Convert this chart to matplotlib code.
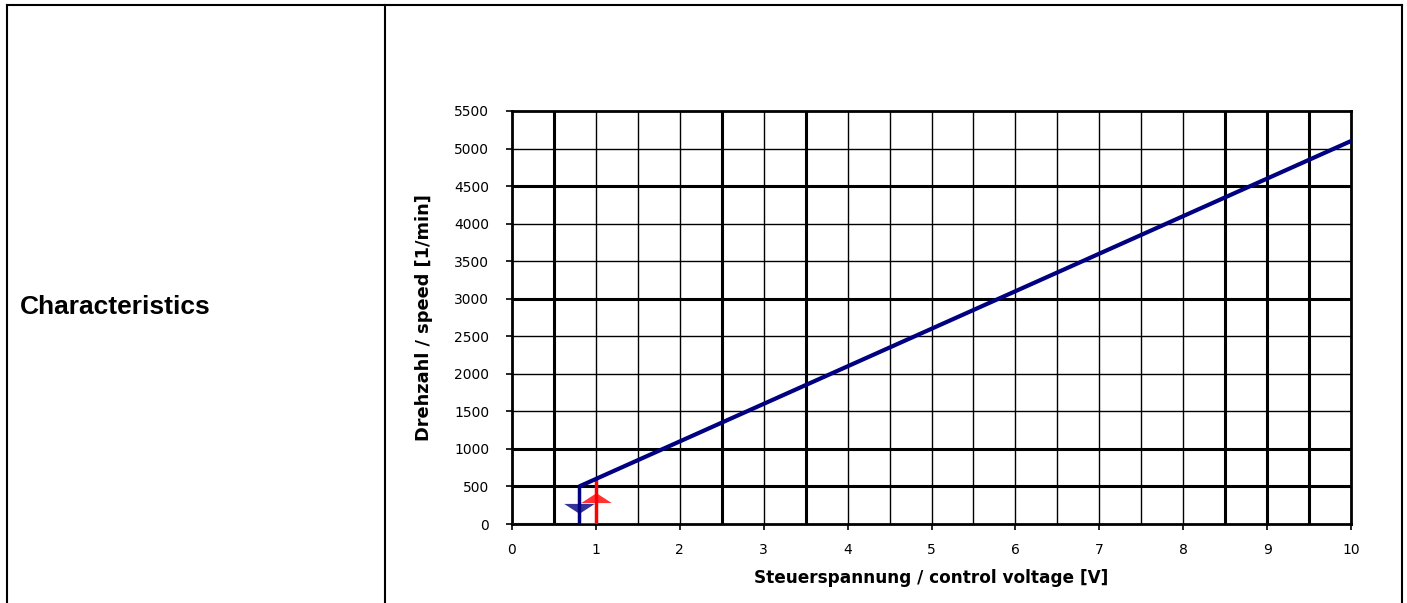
import matplotlib
matplotlib.use("Agg")
import matplotlib.pyplot as plt
from matplotlib.path import Path
from matplotlib.lines import Line2D

# ---- data ----
x_ticks = [0, 1, 2, 3, 4, 5, 6, 7, 8, 9, 10]
y_ticks = [0, 500, 1000, 1500, 2000, 2500, 3000, 3500, 4000, 4500, 5000, 5500]
# characteristic (navy)
char_x = [0, 0.8, 0.8, 10]
char_y = [0, 0, 500, 5100]
# hysteresis switch-on (red)
red_x = [0.8, 1.0, 1.0]
red_y = [0, 0, 600]
# direction arrows
blue_arrow = (0.8, 215)
red_arrow = (1.0, 345)
# grid lines
vgrid = [i * 0.5 for i in range(1, 20)]
vgrid_thick = [0.5, 2.5, 3.5, 8.5, 9.0, 9.5]
hgrid = y_ticks[1:-1]
hgrid_thick = [500, 1000, 3000, 4500]

xlabel = "Steuerspannung / control voltage [V]"
ylabel = "Drehzahl / speed [1/min]"
row_label = "Characteristics"

plt.rcParams['font.family'] = ['DejaVu Sans']

W, H = 1407, 603
fig = plt.figure(figsize=(W / 100, H / 100), dpi=100)

def fx(px): return px / W
def fy(py): return 1 - py / H

lw_tab = 1.5
for (x0, y0, x1, y1) in [(7, 5, 1402, 5), (7, 5, 7, 603), (385, 5, 385, 603), (1402, 5, 1402, 603)]:
    fig.add_artist(Line2D([fx(x0), fx(x1)], [fy(y0), fy(y1)], color='black', lw=lw_tab,
                          transform=fig.transFigure))

fig.text(fx(20), fy(307), row_label, fontsize=19, fontweight='bold', va='center', ha='left',
         family=['Liberation Sans', 'DejaVu Sans'])

ax = fig.add_axes([fx(512), fy(524), fx(1351) - fx(512), fy(111) - fy(524)])
ax.set_xlim(0, 10)
ax.set_ylim(0, 5500)

for v in vgrid:
    ax.axvline(v, color='black', lw=2.2 if v in vgrid_thick else 1.0, zorder=1)
for h in hgrid:
    ax.axhline(h, color='black', lw=2.2 if h in hgrid_thick else 1.0, zorder=1)

for s in ax.spines.values():
    s.set_linewidth(2.0)

ax.set_xticks(x_ticks)
ax.set_yticks(y_ticks)
ax.tick_params(axis='both', direction='out', length=4.5, width=1.2, labelsize=10)
ax.tick_params(axis='x', pad=9)
ax.tick_params(axis='y', pad=12)

# characteristic line
ax.plot(char_x[:2], char_y[:2], color='#000080', lw=1.5, zorder=3, solid_capstyle='butt')
ax.plot(char_x[1:3], char_y[1:3], color='#000080', lw=2.5, zorder=4, solid_capstyle='butt')
ax.plot(char_x[2:], char_y[2:], color='#000080', lw=3.0, zorder=4, solid_capstyle='butt')
ax.plot(red_x[:2], red_y[:2], color='#ff0000', lw=2.0, zorder=3, solid_capstyle='butt')
ax.plot(red_x[1:], red_y[1:], color='#ff0000', lw=2.5, zorder=3, solid_capstyle='butt')

down = Path([(-1, 0.3), (1, 0.3), (0, -0.35), (-1, 0.3)],
            [Path.MOVETO, Path.LINETO, Path.LINETO, Path.CLOSEPOLY])
up = Path([(-1, -0.3), (1, -0.3), (0, 0.35), (-1, -0.3)],
          [Path.MOVETO, Path.LINETO, Path.LINETO, Path.CLOSEPOLY])
ax.plot([blue_arrow[0]], [blue_arrow[1]], marker=down, markersize=22, color='#000080',
        alpha=0.8, markeredgewidth=0, zorder=5)
ax.plot([red_arrow[0]], [red_arrow[1]], marker=up, markersize=22, color='#ff0000',
        alpha=0.8, markeredgewidth=0, zorder=5)

ax.set_xlabel(xlabel, fontsize=12.2, fontweight='bold', labelpad=9)
ax.set_ylabel(ylabel, fontsize=12.8, fontweight='bold', labelpad=15)

fig.savefig("out.png", dpi=100)
